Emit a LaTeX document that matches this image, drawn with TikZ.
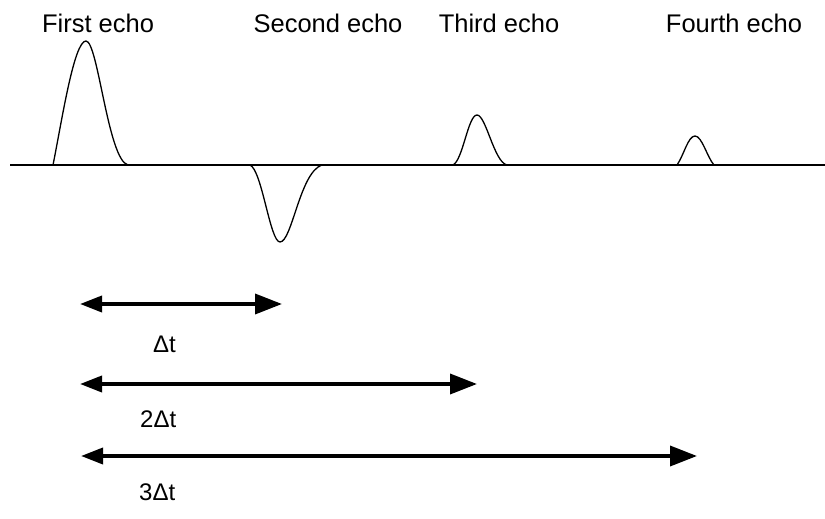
\documentclass[tikz,border=0pt]{standalone}
\usepackage{fontspec}
\setmainfont{Liberation Sans}
\usetikzlibrary{arrows.meta}
\begin{document}
\begin{tikzpicture}[x=1pt,y=-1pt,
  wave/.style={line width=1.3pt, line join=round},
  span/.style={line width=3.6pt,
    {Triangle[length=22pt,width=16pt]}-{Triangle[length=27pt,width=20pt]}},
  title/.style={anchor=base, inner sep=0pt, font=\fontsize{25.5}{30}\selectfont},
  dlabel/.style={anchor=base west, inner sep=0pt, font=\fontsize{24}{28}\selectfont}]
\useasboundingbox (0,0) rectangle (825,519);
% baseline
\coordinate (b0) at (10,165);
\coordinate (b1) at (825,165);
\draw[wave] (b0) -- (b1);
% echoes
\draw[wave] (53,165) .. controls (62,120) and (74,41) .. (86,41)
  .. controls (98,41) and (108,160) .. (128,165);
\draw[wave] (250,165) .. controls (262,170) and (270,242) .. (280,242)
  .. controls (292,242) and (300,172) .. (322,165);
\draw[wave] (453,165) .. controls (463,160) and (468,115) .. (477,115)
  .. controls (486,115) and (494,162) .. (507,165);
\draw[wave] (677,165) .. controls (684,155) and (688,136) .. (695,136)
  .. controls (702,136) and (707,157) .. (714,165);
% titles
\node[title] (t1) at (98,33) {First echo};
\node[title] (t2) at (328,33) {Second echo};
\node[title] (t3) at (499,33) {Third echo};
\node[title] (t4) at (734,33) {Fourth echo};
% spans
\coordinate (a1l) at (80,304);
\coordinate (a1r) at (282,304);
\coordinate (a2l) at (80,384);
\coordinate (a2r) at (477,384);
\coordinate (a3l) at (81,456);
\coordinate (a3r) at (697,456);
\draw[span] (a1l) -- (a1r);
\draw[span] (a2l) -- (a2r);
\draw[span] (a3l) -- (a3r);
\node[dlabel] (l1) at (153,352) {Δt};
\node[dlabel] (l2) at (140,427) {2Δt};
\node[dlabel] (l3) at (139,500) {3Δt};
\end{tikzpicture}
\end{document}
